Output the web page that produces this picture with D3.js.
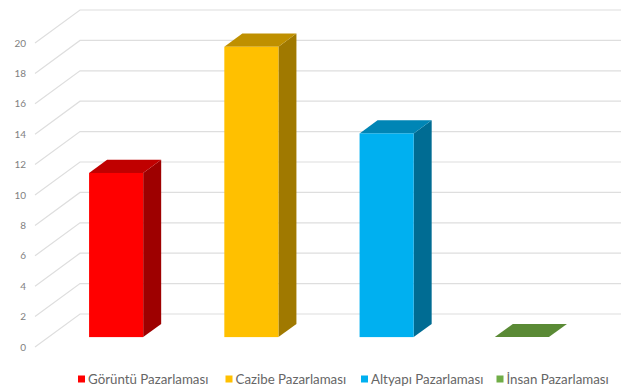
<!DOCTYPE html>
<html><head><meta charset="utf-8">
<script src="https://cdn.jsdelivr.net/npm/d3@7"></script>
<style>body{margin:0;background:#fff}svg{display:block}</style>
</head><body>
<script>
const categories = ["Görüntü Pazarlaması","Cazibe Pazarlaması","Altyapı Pazarlaması","İnsan Pazarlaması"];
const values = [10.8, 19.1, 13.4, 0];
const yTicks = [0,2,4,6,8,10,12,14,16,18,20];
const frontColors = ["#FF0000","#FFC000","#00B0F0","#70AD47"];
const topColors   = ["#C00000","#BF9000","#0085B5","#5A8A35"];
const sideColors  = ["#9E0000","#A07900","#006C93","#4A7030"];

const W=625,H=389;
const svg=d3.select("body").append("svg").attr("width",W).attr("height",H);
const DX=45, DY=-33;           // depth of the 3D box
const fF=0.3, fB=0.7;          // bar depth fractions
const x=d3.scaleBand().domain(categories).range([35,576]);
const y=d3.scaleLinear().domain([0,20]).range([347,43]);

// gridlines
const g=svg.append("g");
yTicks.forEach(v=>{
  const yy=y(v);
  g.append("path").attr("d",`M35,${yy}L${35+DX},${yy+DY}L621,${yy+DY}`)
   .attr("fill","none").attr("stroke","#DEDEDE").attr("stroke-width",1.2);
  g.append("text").attr("x",26).attr("y",yy).attr("dy","0.35em").attr("text-anchor","end")
   .attr("font-family","Lato, sans-serif").attr("font-size",10).attr("fill","#7F7F7F").text(v);
});

// bars
const bw=x.bandwidth()*0.4;
categories.forEach((c,i)=>{
  const x0=x(c)+x.bandwidth()/2-bw/2, x1=x0+bw;
  const ox=DX*fF, oy=DY*fF, bx=DX*(fB-fF), by=DY*(fB-fF);
  const yb=y(0)+oy, yt=y(values[i])+oy;
  const fx0=x0+ox, fx1=x1+ox;
  svg.append("path").attr("d",`M${fx1},${yb}L${fx1+bx},${yb+by}L${fx1+bx},${yt+by}L${fx1},${yt}Z`).attr("fill",sideColors[i]);
  svg.append("path").attr("d",`M${fx0},${yt}L${fx1},${yt}L${fx1+bx},${yt+by}L${fx0+bx},${yt+by}Z`).attr("fill",topColors[i]);
  if(values[i]>0) svg.append("rect").attr("x",fx0).attr("y",yt).attr("width",bw).attr("height",yb-yt).attr("fill",frontColors[i]);
});

// legend
const legX=[78,225.5,361,496.5];
const lg=svg.append("g");
categories.forEach((c,i)=>{
  lg.append("rect").attr("x",legX[i]).attr("y",375.5).attr("width",7).attr("height",7).attr("fill",frontColors[i]);
  lg.append("text").attr("x",legX[i]+10).attr("y",379).attr("dy","0.35em")
    .attr("font-family","Lato, sans-serif").attr("font-size",13.3).attr("fill","#666666").text(c);
});
</script>
</body></html>
